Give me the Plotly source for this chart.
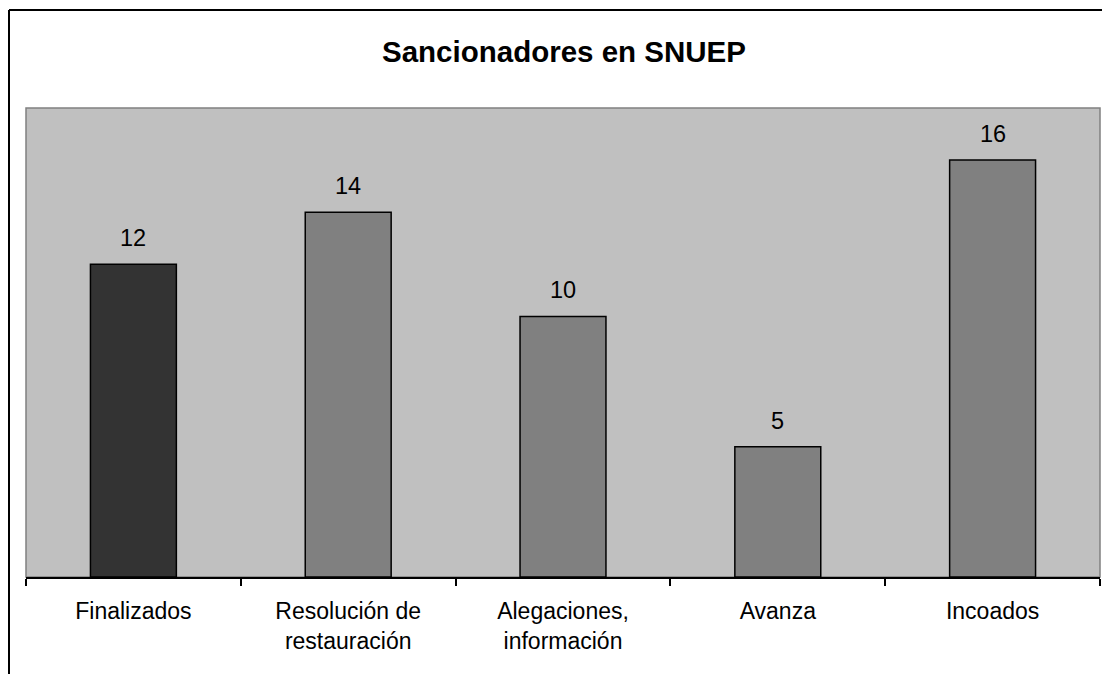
import plotly.graph_objects as go

categories = ["Finalizados", "Resolución de<br>restauración", "Alegaciones,<br>información", "Avanza", "Incoados"]
values = [12, 14, 10, 5, 16]
bar_colors = ["#333333", "#808080", "#808080", "#808080", "#808080"]
title_text = "Sancionadores en SNUEP"

# page body has an 8px margin, so the figure is drawn 8px right/down
OFF = 8
W, H = 1110 - OFF, 674 - OFF
L, R, T, B = 26 - OFF, 10, 108 - OFF, 97
pw, ph = W - L - R, H - T - B

def px_x(px):
    return (px - OFF - L) / pw

def px_y(py):
    return (H - B - (py - OFF)) / ph

FONT = "Liberation Sans, Arial, sans-serif"

fig = go.Figure()
fig.add_trace(go.Bar(
    x=categories, y=values,
    marker=dict(color=bar_colors, line=dict(color="#000000", width=1.5)),
    width=0.4,
    hoverinfo="skip",
))

annotations = []
for c, v in zip(categories, values):
    annotations.append(dict(
        x=c, y=v, xref="x", yref="y", text=str(v), showarrow=False,
        yanchor="bottom", yshift=11,
        font=dict(family=FONT, size=23.5, color="#000000"),
    ))

shapes = [
    dict(type="rect", xref="paper", yref="paper", x0=0, x1=1, y0=0, y1=1,
         line=dict(color="#808080", width=1.5), layer="below"),
    dict(type="line", xref="paper", yref="paper", x0=px_x(9), x1=px_x(9),
         y0=px_y(680), y1=px_y(10), line=dict(color="#000000", width=2)),
    dict(type="line", xref="paper", yref="paper", x0=px_x(9), x1=px_x(1112),
         y0=px_y(10), y1=px_y(10), line=dict(color="#000000", width=2)),
]

fig.update_layout(
    width=W, height=H,
    margin=dict(l=L, r=R, t=T, b=B, pad=0),
    paper_bgcolor="#ffffff",
    plot_bgcolor="#c0c0c0",
    showlegend=False,
    title=dict(text="<b>" + title_text + "</b>", x=px_x(564), xref="paper",
               y=1 - (52 - OFF) / H, yref="container", xanchor="center", yanchor="middle",
               font=dict(family=FONT, size=29.5, color="#000000")),
    font=dict(family=FONT, size=23, color="#000000"),
    annotations=annotations,
    shapes=shapes,
)
fig.update_xaxes(
    type="category",
    showline=True, linecolor="#000000", linewidth=1.5,
    ticks="outside", ticklen=7, tickwidth=1.5, tickcolor="#000000",
    tickson="boundaries",
    showgrid=False, zeroline=False,
    tickfont=dict(family=FONT, size=23, color="#000000"),
    ticklabelstandoff=13,
    fixedrange=True,
)
fig.update_yaxes(
    range=[0, 18], showticklabels=False, ticks="", showgrid=False,
    zeroline=False, showline=False, fixedrange=True,
)

fig.write_html("out.html", config={"displayModeBar": False})
